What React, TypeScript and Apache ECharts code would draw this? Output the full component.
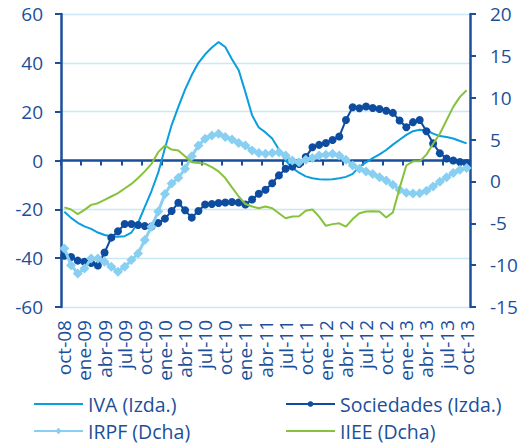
import React, { useEffect, useRef } from "react";
import * as echarts from "echarts";

const MONTHS = ["ene", "feb", "mar", "abr", "may", "jun", "jul", "ago", "sep", "oct", "nov", "dic"];
const categories: string[] = [];
for (let k = 0; k < 61; k++) {
  const m = (9 + k) % 12;
  const y = 8 + Math.floor((9 + k) / 12);
  categories.push(`${MONTHS[m]}-${String(y).padStart(2, "0")}`);
}

const seriesNames = ["IVA (Izda.)", "Sociedades (Izda.)", "IRPF (Dcha)", "IIEE (Dcha)"];

const iva = [
  -21, -23.5, -25.5, -27, -28, -29.5, -30.5, -31, -31.2, -31,
  -29.5, -25.5, -19, -12.5, -5, 5, 14.5, 22, 29, 35,
  40, 43.5, 46.3, 48.5, 46.5, 41.5, 37, 28, 18.5, 13.5,
  11.5, 9, 4.5, 0, -3, -5, -6.5, -7.3, -7.7, -7.8,
  -7.7, -7.3, -6.7, -5.5, -2.5, -0.8, 1, 2.5, 4.3, 6.5,
  8.5, 10.5, 12, 12.6, 12.3, 11, 10, 9.6, 9, 8, 7,
];

const sociedades = [
  -39, -39.5, -41, -41.5, -42, -43, -37.7, -31.6, -29, -26,
  -26, -26.4, -26.8, -27, -25.6, -23.8, -20.7, -17.3, -20.4, -23.4,
  -20.7, -18, -17.8, -17.4, -17.2, -17, -17.2, -18, -16, -13.6,
  -12, -9.3, -6.1, -3.4, -2.5, -1.4, 1.4, 5.4, 6.4, 7.2,
  8.4, 9.8, 16.6, 21.8, 21.4, 22.1, 21.5, 21.1, 20.4, 19.5,
  16.4, 13.6, 15.7, 16.6, 12, 7, 3, 0.8, 0, -0.6, -1,
];

const irpf = [
  -8, -10, -11, -10.4, -9.2, -9.2, -9.6, -10.2, -10.8, -10.2,
  -9.4, -8.6, -7, -5.4, -3.6, -1.5, -0.25, 0.45, 1.5, 3,
  4.3, 5.1, 5.5, 5.7, 5.3, 5, 4.6, 4.3, 3.7, 3.4,
  3.3, 3.4, 3.5, 3.1, 2.5, 2.3, 2.6, 2.8, 3.1, 3.2,
  3.3, 3.1, 2.6, 1.9, 1.5, 1.2, 0.9, 0.5, 0.1, -0.4,
  -1, -1.35, -1.45, -1.4, -1.1, -0.6, -0.05, 0.5, 1, 1.4, 1.6,
];

const iiee = [
  -3.1, -3.35, -3.9, -3.4, -2.8, -2.6, -2.2, -1.8, -1.4, -0.85,
  -0.3, 0.4, 1.2, 2.1, 3.5, 4.3, 3.8, 3.7, 3.0, 2.3,
  2.2, 2.1, 1.7, 1.2, 0.4, -0.7, -1.8, -2.7, -3.0, -3.2,
  -3.0, -3.2, -3.8, -4.4, -4.2, -4.15, -3.5, -3.35, -4.2, -5.3,
  -5.1, -5.0, -5.4, -4.5, -3.8, -3.6, -3.55, -3.6, -4.3, -3.7,
  -0.8, 1.9, 2.4, 2.4, 3.2, 4.5, 5.7, 7.3, 8.9, 10.1, 10.9,
];

const leftTicks = { min: -60, max: 60, interval: 20 };
const rightTicks = { min: -15, max: 20, interval: 5 };

const AXIS = "#1b4f9b";
const GRID = "#c9e8f6";
const C_IVA = "#0a9ede";
const C_SOC = "#0d4c9f";
const C_IRPF = "#88cff1";
const C_IIEE = "#86c23c";
const FONT = "Open Sans";

export default function App() {
  const ref = useRef<HTMLDivElement>(null);
  useEffect(() => {
    if (!ref.current) return;
    const chart = echarts.init(ref.current, null, { renderer: "svg" });
    const legendText = { color: AXIS, fontSize: 19.5, fontFamily: FONT };
    const mkLegend = (name: string, left: number, top: number, marker: boolean, size: number) => ({
      data: [name],
      left,
      top,
      itemWidth: 49,
      itemHeight: size,
      itemGap: 0,
      textStyle: legendText,
      selectedMode: false,
      padding: 0,
      itemStyle: marker ? {} : { opacity: 0 },
    });
    chart.setOption({
      animation: false,
      textStyle: { fontFamily: FONT },
      grid: { left: 61, right: 58, top: 14, bottom: 141, containLabel: false },
      legend: [
        mkLegend(seriesNames[0], 33, 394, false, 10),
        mkLegend(seriesNames[1], 285, 394, true, 7),
        mkLegend(seriesNames[2], 33, 421, true, 8),
        mkLegend(seriesNames[3], 285, 421, false, 10),
      ],
      xAxis: [
        {
          type: "category",
          data: categories,
          boundaryGap: true,
          position: "bottom",
          axisLine: { show: false, onZero: false },
          axisTick: { show: false },
          splitLine: { show: false },
          axisLabel: {
            interval: 2,
            rotate: 90,
            color: AXIS,
            fontSize: 19,
            fontFamily: FONT,
            margin: 13,
          },
        },
        {
          type: "category",
          data: categories,
          boundaryGap: true,
          position: "bottom",
          axisLine: { show: true, onZero: true, onZeroAxisIndex: 0, lineStyle: { color: AXIS, width: 2.5 } },
          axisTick: { show: true, interval: 2, length: 5, inside: false, lineStyle: { color: AXIS, width: 2 } },
          axisLabel: { show: false },
          splitLine: { show: false },
        },
      ],
      yAxis: [
        {
          type: "value",
          position: "left",
          min: leftTicks.min,
          max: leftTicks.max,
          interval: leftTicks.interval,
          axisLine: { show: true, lineStyle: { color: AXIS, width: 2.5 } },
          axisTick: { show: true, length: 6, lineStyle: { color: AXIS, width: 2 } },
          splitLine: { show: true, lineStyle: { color: GRID, width: 1.3 } },
          axisLabel: { color: AXIS, fontSize: 19, fontFamily: FONT, margin: 18 },
        },
        {
          type: "value",
          position: "right",
          min: rightTicks.min,
          max: rightTicks.max,
          interval: rightTicks.interval,
          axisLine: { show: true, lineStyle: { color: AXIS, width: 2.5 } },
          axisTick: { show: true, length: 6, lineStyle: { color: AXIS, width: 2 } },
          splitLine: { show: false },
          axisLabel: { color: AXIS, fontSize: 19, fontFamily: FONT, margin: 20 },
        },
      ],
      series: [
        {
          name: seriesNames[0],
          type: "line",
          xAxisIndex: 0,
          yAxisIndex: 0,
          data: iva,
          symbol: "none",
          lineStyle: { color: C_IVA, width: 2 },
          itemStyle: { color: C_IVA },
          z: 2,
        },
        {
          name: seriesNames[1],
          type: "line",
          xAxisIndex: 0,
          yAxisIndex: 0,
          data: sociedades,
          symbol: "circle",
          symbolSize: 8,
          showAllSymbol: true,
          lineStyle: { color: C_SOC, width: 2 },
          itemStyle: { color: C_SOC },
          z: 3,
        },
        {
          name: seriesNames[2],
          type: "line",
          xAxisIndex: 0,
          yAxisIndex: 1,
          data: irpf,
          symbol: "diamond",
          symbolSize: 10,
          showAllSymbol: true,
          lineStyle: { color: C_IRPF, width: 3 },
          itemStyle: { color: C_IRPF },
          z: 4,
        },
        {
          name: seriesNames[3],
          type: "line",
          xAxisIndex: 0,
          yAxisIndex: 1,
          data: iiee,
          symbol: "none",
          lineStyle: { color: C_IIEE, width: 2 },
          itemStyle: { color: C_IIEE },
          z: 5,
        },
      ],
    });
    return () => chart.dispose();
  }, []);
  return <div ref={ref} style={{ width: 528, height: 448, position: "absolute", left: 0, top: 0 }} />;
}
